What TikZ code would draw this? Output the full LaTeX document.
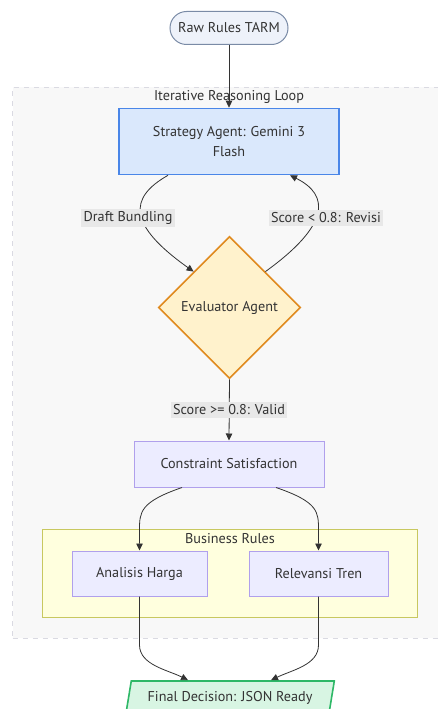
\documentclass[tikz,border=0pt]{standalone}
\usepackage{fontspec}
\setmainfont{PT Sans}
\usetikzlibrary{shapes.geometric,arrows.meta,calc}

\definecolor{ink}{HTML}{333333}
\definecolor{edgelbl}{HTML}{E8E8E8}
\definecolor{loopfill}{HTML}{F8F8F8}
\definecolor{loopline}{HTML}{DADAE2}
\definecolor{rawfill}{HTML}{EEF2FA}
\definecolor{rawline}{HTML}{7A8BA6}
\definecolor{stratfill}{HTML}{DAE8FC}
\definecolor{stratline}{HTML}{4A86E8}
\definecolor{evalfill}{HTML}{FFF2CC}
\definecolor{evalline}{HTML}{E08A1E}
\definecolor{procfill}{HTML}{ECECFF}
\definecolor{procline}{HTML}{B0A0EC}
\definecolor{rulefill}{HTML}{FFFFDE}
\definecolor{ruleline}{HTML}{C8C860}
\definecolor{finalfill}{HTML}{D8F5E3}
\definecolor{finalline}{HTML}{2EB867}

\begin{document}
\begin{tikzpicture}[x=1pt,y=-1pt,
  font=\fontsize{14.2}{20}\selectfont, text=ink,
  flow/.style={draw=ink, line width=0.8pt, -{Triangle[length=7pt,width=6.5pt]}},
  edgetag/.style={fill=edgelbl, inner sep=2.5pt, text=ink},
  cluster/.style={rectangle, inner sep=0pt},
  procbox/.style={rectangle, draw=procline, fill=procfill, line width=1pt, inner sep=0pt},
]
\path[use as bounding box] (0,0) rectangle (437,709);

% groups
\node[cluster, draw=loopline, dash pattern=on 5pt off 5pt, line width=0.8pt, fill=loopfill,
      minimum width=432.5pt, minimum height=551pt] (loop) at (228.75,362.5) {};
\node (looptitle) at (229,97) {Iterative Reasoning Loop};
\node[cluster, draw=ruleline, fill=rulefill, line width=0.8pt, minimum width=375pt, minimum height=88pt] (rules) at (229.5,573) {};
\node (rulestitle) at (230,539) {Business Rules};

% nodes
\node[rectangle, rounded corners=16.5pt, draw=rawline, fill=rawfill, line width=1pt,
      minimum width=118pt, minimum height=33pt, inner sep=0pt] (raw) at (229,28) {Raw Rules TARM};
\node[rectangle, draw=stratline, fill=stratfill, line width=1.6pt, align=center,
      minimum width=220pt, minimum height=66pt, inner sep=0pt] (strat) at (229,141.5)
      {Strategy Agent: Gemini 3\\Flash};
\node[diamond, draw=evalline, fill=evalfill, line width=1.6pt, aspect=1,
      minimum width=142pt, minimum height=142pt, inner sep=0pt] (eval) at (229.5,307.5) {Evaluator Agent};
\node[procbox, minimum width=190pt, minimum height=46pt] (cons) at (229,464) {Constraint Satisfaction};
\node[procbox, minimum width=135pt, minimum height=45pt] (harga) at (139.5,573.5) {Analisis Harga};
\node[procbox, minimum width=139pt, minimum height=45pt] (tren) at (318.5,573.5) {Relevansi Tren};
\node[trapezium, trapezium left angle=66.8, trapezium right angle=113.2, trapezium stretches body,
      draw=finalline, fill=finalfill, line width=1.6pt,
      minimum width=208.6pt, minimum height=34pt, inner sep=0pt] (final) at (230,698) {Final Decision: JSON Ready};

% connectors
\draw[flow] (raw) -- (strat);

\coordinate (draftpos) at (128,218);
\coordinate (revpos) at (326,218);
\coordinate (validpos) at (229,410);

\draw[flow] ([xshift=-61pt]strat.south) .. controls (128,198) and (128,225) .. (eval.north west);
\draw[flow] (eval.north east) .. controls (330,225) and (330,195) .. ([xshift=61pt]strat.south);
\draw[flow] (eval.south) -- (cons.north);

\node[edgetag] (draft) at (draftpos) {Draft Bundling};
\node[edgetag] (revisi) at (revpos) {Score < 0.8: Revisi};
\node[edgetag] (valid) at (validpos) {Score >= 0.8: Valid};

\draw[flow] ([xshift=-47pt]cons.south) .. controls (140,502) and (139.5,512) .. (139.5,530) -- (harga.north);
\draw[flow] ([xshift=47pt]cons.south) .. controls (318.5,502) and (318.5,512) .. (318.5,530) -- (tren.north);

\draw[flow] (harga.south) -- (139.5,645) .. controls (139.5,665) and (168,670) .. ([xshift=-42pt]final.north);
\draw[flow] (tren.south) -- (318.5,645) .. controls (318.5,665) and (292,670) .. ([xshift=41pt]final.north);
\end{tikzpicture}
\end{document}
